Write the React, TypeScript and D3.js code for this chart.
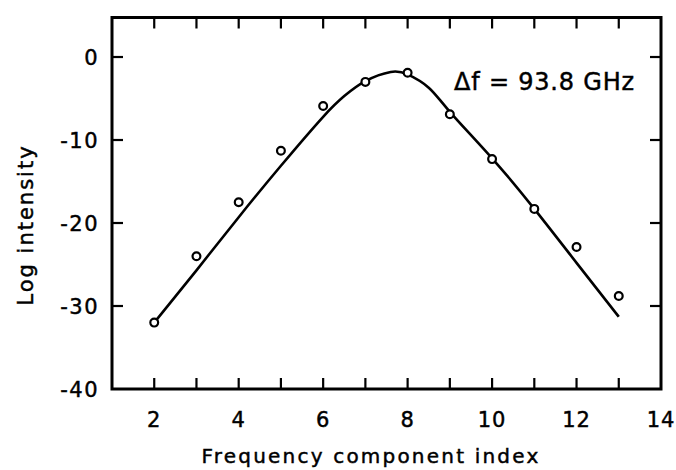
import React, { useEffect, useRef } from 'react';
import * as d3 from 'd3';

// measured points (component index vs log intensity)
const pointX = [2, 3, 4, 5, 6, 7, 8, 9, 10, 11, 12, 13];
const pointY = [-32, -24, -17.5, -11.3, -5.9, -3.0, -1.9, -6.9, -12.3, -18.3, -22.9, -28.8];

// fitted curve
const curveX = [2, 3, 4, 5, 6, 6.5, 7, 7.6, 8, 8.5, 9, 10, 11, 12, 13];
const curveY = [-32, -25.7, -19.3, -13.1, -7.2, -4.7, -2.9, -1.8, -2.1, -3.7, -6.6, -12.2, -18.3, -24.8, -31.3];

const xTickLabels = [2, 4, 6, 8, 10, 12, 14];
const xMinorTicks = [2, 3, 4, 5, 6, 7, 8, 9, 10, 11, 12, 13];
const yTickLabels = [0, -10, -20, -30, -40];
const yFrameTicks = [0, -10, -20, -30];

const annotation = 'Δf = 93.8 GHz';

const App = () => {
  const ref = useRef<SVGSVGElement>(null);

  useEffect(() => {
    const width = 676;
    const height = 470;
    const left = 112, right = 661, top = 17.5, bottom = 389;

    const svg = d3.select(ref.current);
    svg.selectAll('*').remove();

    const x = d3.scaleLinear().domain([1, 14]).range([left, right]);
    const y = d3.scaleLinear().domain([-40, 4.76]).range([bottom, top]);

    const font = '"DejaVu Sans", "Liberation Sans", Arial, sans-serif';
    // scanned print looks heavier than the regular face
    const inked = (sel: any) => sel.attr('stroke', '#000').attr('stroke-width', 0.45).attr('fill', '#000');

    svg.append('rect').attr('width', width).attr('height', height).attr('fill', '#fff');

    // ticks, pointing inward on all four sides
    const tickLen = 11;
    const ticks = svg.append('g').attr('stroke', '#000').attr('stroke-width', 2.2);
    xMinorTicks.forEach(t => {
      ticks.append('line').attr('x1', x(t)).attr('x2', x(t)).attr('y1', bottom).attr('y2', bottom - tickLen);
      ticks.append('line').attr('x1', x(t)).attr('x2', x(t)).attr('y1', top).attr('y2', top + tickLen);
    });
    yFrameTicks.forEach(t => {
      ticks.append('line').attr('x1', left).attr('x2', left + tickLen).attr('y1', y(t)).attr('y2', y(t));
      ticks.append('line').attr('x1', right).attr('x2', right - tickLen).attr('y1', y(t)).attr('y2', y(t));
    });

    // frame
    svg.append('rect')
      .attr('x', left).attr('y', top)
      .attr('width', right - left).attr('height', bottom - top)
      .attr('fill', 'none').attr('stroke', '#000').attr('stroke-width', 3);

    // tick labels
    svg.append('g').selectAll('text').data(xTickLabels).join('text')
      .attr('x', d => x(d)).attr('y', 427)
      .attr('text-anchor', 'middle')
      .style('font-family', font).style('font-size', '21px').style('letter-spacing', '1px')
      .call(inked)
      .text(d => d);

    svg.append('g').selectAll('text').data(yTickLabels).join('text')
      .attr('x', 99).attr('y', d => y(d) + 7.5)
      .attr('text-anchor', 'end')
      .style('font-family', font).style('font-size', '21px').style('letter-spacing', '1.5px')
      .call(inked)
      .text(d => d);

    // axis titles
    svg.append('text')
      .attr('x', 371).attr('y', 463)
      .attr('text-anchor', 'middle')
      .style('font-family', font).style('font-size', '20px').style('letter-spacing', '2.2px')
      .call(inked)
      .text('Frequency component index');

    svg.append('text')
      .attr('transform', 'translate(33,225) rotate(-90)')
      .attr('text-anchor', 'middle')
      .style('font-family', font).style('font-size', '21px').style('letter-spacing', '2px')
      .call(inked)
      .text('Log intensity');

    // fitted curve
    const line = d3.line<number>()
      .x((_, i) => x(curveX[i]))
      .y(d => y(d))
      .curve(d3.curveNatural);

    svg.append('path')
      .datum(curveY)
      .attr('d', line)
      .attr('fill', 'none')
      .attr('stroke', '#000')
      .attr('stroke-width', 2.6);

    // data points
    svg.append('g').selectAll('circle').data(pointY).join('circle')
      .attr('cx', (_, i) => x(pointX[i]))
      .attr('cy', d => y(d))
      .attr('r', 3.9)
      .attr('fill', '#fff')
      .attr('stroke', '#000')
      .attr('stroke-width', 2.2);

    svg.append('text')
      .attr('x', 454).attr('y', 90)
      .style('font-family', font).style('font-size', '24px').style('letter-spacing', '0.8px')
      .call(inked)
      .text(annotation);
  }, []);

  return (
    <svg
      ref={ref}
      width={676}
      height={470}
      style={{ position: 'absolute', left: 0, top: 0, display: 'block' }}
    />
  );
};

export default App;
